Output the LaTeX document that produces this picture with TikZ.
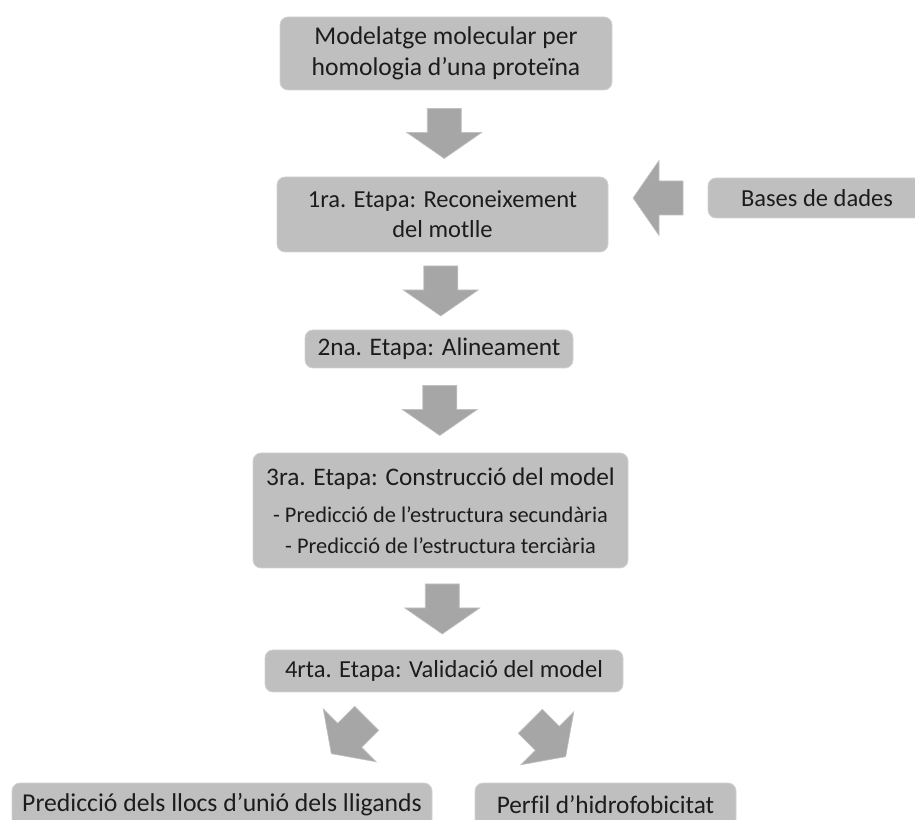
\documentclass[tikz,border=0pt]{standalone}
\usepackage{fontspec}
\setmainfont{Carlito}[Ligatures={NoCommon}]
\usetikzlibrary{calc, positioning}

\definecolor{boxgray}{RGB}{191,191,191}
\definecolor{arrowgray}{RGB}{166,166,166}
\definecolor{txtgray}{RGB}{28,28,28}

\tikzset{
	stage/.style={fill=boxgray, draw=boxgray!70!white, line width=0.8pt, rounded corners=8pt,
		align=center, text=txtgray, inner sep=0pt, font=\fontsize{24.5}{30}\selectfont},
	bigtext/.style={font=\fontsize{25.3}{30}\selectfont},
	blockarrow/.pic={
		\fill[arrowgray, draw=arrowgray!70!white, line width=0.6pt]
			(-25,-17) -- (-1,-17) -- (-1,-37.5) -- (25,0) -- (-1,37.5) -- (-1,17) -- (-25,17) -- cycle;
	}
}

\begin{document}
\begin{tikzpicture}[x=1pt, y=1pt]
		\useasboundingbox (0,0) rectangle (915,819);

\node[stage, font=\fontsize{25.6}{30.5}\selectfont, minimum width=332, minimum height=73] (mod) at (446,765.5) {Modelatge molecular per\\homologia d’una proteïna};
\node[stage, minimum width=331, minimum height=75] (e1) at (442.5,604.5) {1ra. Etapa: Reconeixement\\del motlle};
\node[stage, minimum width=218, minimum height=40] (bd) at (817,621) {Bases de dades};
\node[stage, bigtext, minimum width=268, minimum height=38] (e2) at (439,470) {2na. Etapa: Alineament};
\node[stage, font=\fontsize{22.4}{31}\selectfont, minimum width=375, minimum height=115] (e3) at (440.5,308.5)
	{{\fontsize{25.3}{31}\selectfont 3ra. Etapa: Construcció del model}\\[6pt]
	- Predicció de l’estructura secundària\\
	- Predicció de l’estructura terciària};
\node[stage, minimum width=358, minimum height=42] (e4) at (444,148) {4rta. Etapa: Validació del model};
\node[stage, font=\fontsize{25.7}{30}\selectfont, minimum width=420, minimum height=44] (lig) at (222,14) {Predicció dels llocs d’unió dels lligands};
\node[stage, bigtext, minimum width=261, minimum height=44] (hid) at (605.5,14) {Perfil d’hidrofobicitat};

\coordinate (dl) at (349,83);
\coordinate (dr) at (548,80);

\pic[rotate=-90] at ($(mod.south)!0.5!(e1.north)$) {blockarrow};
\pic[rotate=180] at ($(e1.east |- bd.west)!0.5!(bd.west)$) {blockarrow};
\pic[rotate=-90] at ($(e1.south)!0.5!(e2.north)$) {blockarrow};
\pic[rotate=-90] at ($(e2.south)!0.5!(e3.north)$) {blockarrow};
\pic[rotate=-90] at ($(e3.south)!0.5!(e4.north)$) {blockarrow};
\pic[rotate=225] at (dl) {blockarrow};
\pic[rotate=-45] at (dr) {blockarrow};
	\end{tikzpicture}
\end{document}
